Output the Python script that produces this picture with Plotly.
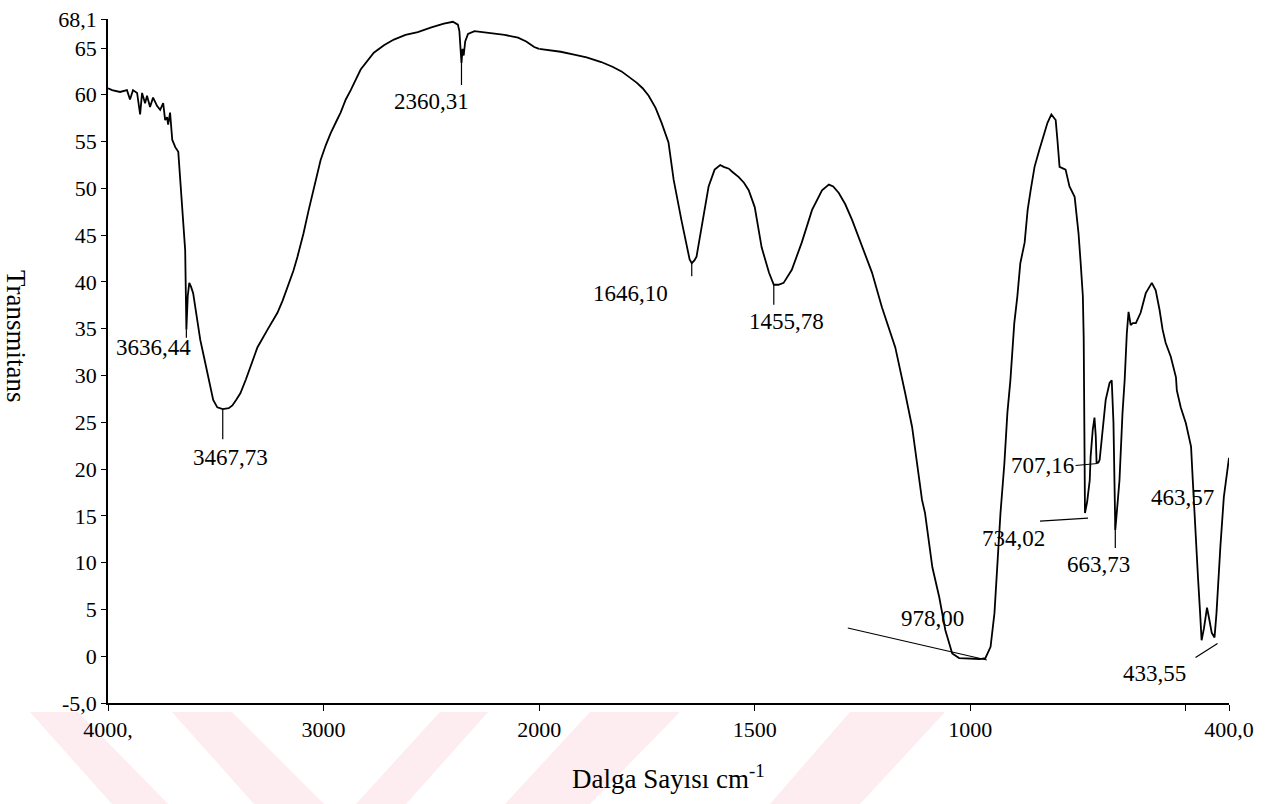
import plotly.graph_objects as go

# ---------------- data ----------------
wavenumber = [
    4000, 3981, 3944, 3912, 3898, 3884, 3865, 3851, 3842, 3828, 3819, 3805, 3791, 3772,
    3758, 3744, 3735, 3726, 3721, 3712, 3702, 3688, 3674, 3665, 3652, 3642, 3636.44,
    3630, 3623, 3615, 3605, 3590, 3572, 3555, 3540, 3525, 3512, 3493, 3467.73, 3440,
    3423, 3405, 3386, 3360, 3340, 3307, 3260, 3214, 3190, 3167, 3140, 3121, 3093, 3070,
    3047, 3014, 2990, 2967, 2940, 2921, 2897, 2874, 2828, 2767, 2720, 2674, 2620, 2563,
    2500, 2442, 2400, 2377, 2370, 2364, 2360.31, 2355, 2350, 2343, 2330, 2300, 2260,
    2223, 2160, 2098, 2060, 2023, 2000, 1979, 1950, 1919, 1890, 1856, 1830, 1809, 1790,
    1774, 1760, 1746, 1730, 1716, 1700, 1688, 1670, 1651, 1646.10, 1640, 1635, 1623,
    1607, 1593, 1580, 1572, 1560, 1553, 1537, 1525, 1514, 1500, 1492, 1484, 1467,
    1455.78, 1445, 1433, 1414, 1391, 1367, 1344, 1328, 1318, 1305, 1290, 1274, 1251,
    1228, 1205, 1174, 1151, 1135, 1112, 1105, 1088, 1072, 1058, 1042, 1026, 995, 978.00,
    965, 953, 944, 937, 930, 921, 914, 907, 902, 898, 891, 884, 874, 867, 860, 851, 840,
    828, 821, 812, 802, 798, 793, 779, 770, 758, 753, 749, 744, 739, 737, 736, 735,
    734.02, 729, 723, 721, 716, 712, 709, 707.16, 703, 700, 693, 686, 677, 672, 668, 665,
    663.73, 660, 654, 647, 642, 637, 633, 628, 623, 616, 605, 593, 579, 570, 561, 554,
    547, 535, 523, 521, 512, 500, 488, 484, 477, 472, 467, 463.57, 458, 451, 446, 440,
    433.55, 429, 420, 412, 400,
]
transmittance = [
    60.7, 60.5, 60.3, 60.5, 59.5, 60.5, 60.2, 57.9, 60.2, 59.1, 59.9, 58.7, 59.7, 58.8,
    58.4, 59.1, 57.3, 57.6, 56.8, 58.1, 55.2, 54.4, 53.9, 50.9, 46.5, 43.4, 34.9,
    38.5, 39.9, 39.5, 38.8, 36.3, 33.8, 32.0, 30.3, 28.6, 27.4, 26.6, 26.4, 26.5,
    26.8, 27.4, 28.1, 29.6, 30.9, 33.0, 34.9, 36.7, 38.0, 39.5, 41.2, 42.7, 45.2, 47.6,
    49.8, 53.0, 54.6, 55.9, 57.2, 58.1, 59.5, 60.5, 62.7, 64.5, 65.3, 65.9, 66.4, 66.7,
    67.2, 67.6, 67.8, 67.5, 66.8, 65.0, 63.4, 64.9, 64.2, 65.7, 66.5, 66.8, 66.7,
    66.6, 66.4, 66.1, 65.7, 65.1, 64.9, 64.8, 64.6, 64.3, 64.0, 63.5, 63.0, 62.5, 61.9,
    61.3, 60.7, 59.9, 58.6, 57.0, 54.9, 50.9, 46.6, 42.4, 42.0, 42.3, 42.7, 45.9,
    50.2, 52.0, 52.5, 52.3, 52.1, 51.8, 51.2, 50.6, 49.8, 48.0, 46.0, 43.7, 41.0,
    39.7, 39.7, 39.9, 41.3, 44.2, 47.7, 49.8, 50.4, 50.2, 49.5, 48.3, 46.6, 43.7,
    41.0, 37.3, 33.0, 28.1, 24.5, 16.7, 15.3, 9.5, 6.3, 2.8, 0.3, -0.2, -0.3, -0.3,
    -0.2, 1.0, 4.6, 9.9, 15.3, 20.6, 26.0, 29.5, 32.7, 35.6, 38.4, 42.0, 44.2, 47.7, 49.8, 52.3, 54.1,
    55.9, 57.0, 57.9, 57.3, 55.2, 52.3, 52.0, 50.2, 49.1, 47.0, 45.2, 42.0, 38.5, 34.0, 27.0, 21.0,
    15.3, 16.5, 18.8, 21.3, 24.2, 25.5, 23.5, 20.7, 20.7, 21.0, 24.5, 27.4, 29.2, 29.5, 25.0, 19.0,
    13.5, 15.5, 18.8, 26.0, 29.5, 34.5, 36.8, 35.4, 35.6, 35.6, 36.7, 38.8, 39.9, 39.1, 37.0, 34.9,
    33.5, 32.0, 29.8, 28.4, 26.6, 24.9, 22.4, 18.8, 13.5, 8.5, 4.6, 1.7, 3.0, 5.2, 4.0, 2.5,
    2.0, 4.6, 11.7, 17.0, 21.2,
]

peak_wn = [3636.44, 3467.73, 2360.31, 1646.10, 1455.78, 978.00, 734.02, 707.16, 663.73, 463.57, 433.55]
peak_T = [34.9, 26.4, 63.4, 42.0, 39.7, -0.3, 15.3, 20.7, 13.5, 1.7, 2.0]
peak_labels = ["3636,44", "3467,73", "2360,31", "1646,10", "1455,78", "978,00",
               "734,02", "707,16", "663,73", "463,57", "433,55"]

x_hi_ticks = [4000, 3000, 2000]
x_hi_text = ["4000,", "3000", "2000"]
x_lo_ticks = [1500, 1000, 400]
x_lo_text = ["1500", "1000", "400,0"]
x_lo_minor = [500]
y_ticks = [68.1, 65, 60, 55, 50, 45, 40, 35, 30, 25, 20, 15, 10, 5, 0, -5]
y_text = ["68,1", "65", "60", "55", "50", "45", "40", "35", "30", "25", "20", "15", "10", "5", "0", "-5,0"]

X_BREAK = 2000
Y_MIN, Y_MAX = -5.0, 68.1

# ---------------- layout constants ----------------
W, H = 1277, 804
ML, MR, MT, MB = 108, 48, 19, 101
PW, PH = W - ML - MR, H - MT - MB
SPLIT = 2000 / 5200.0  # 4000-2000 compressed, 2000-400 at double scale

FONT = "Liberation Serif, Times New Roman, serif"
TICK_SIZE = 22
LABEL_SIZE = 23
TITLE_SIZE = 27

# label placement in screen pixels relative to the peak point (dx, dy down)
label_text_off = [(-33, 18), (8, 48), (-30, 39), (-61, 30), (13, 37), (-47, -41),
                  (-71, 25), (-54, 3), (-17, 35), (-19, -143), (-60, 36)]
label_line_off = [((0, 0), (0, 8)), ((0, 0), (0, 30)), ((0, 0), (0, 22)), ((0, 0), (0, 13)),
                  ((0, 0), (0, 20)), ((7, 1), (-132, -31)), ((3, 5), (-45, 8)), ((1, 1), (-21, 3)),
                  ((0, -7), (0, 18)), None, ((3, 6), (-19, 20))]

hi_x = [w for w in wavenumber if w >= X_BREAK]
hi_y = [t for w, t in zip(wavenumber, transmittance) if w >= X_BREAK]
lo_x = [w for w in wavenumber if w <= X_BREAK]
lo_y = [t for w, t in zip(wavenumber, transmittance) if w <= X_BREAK]

fig = go.Figure()
line_style = dict(color="black", width=1.8)
fig.add_trace(go.Scatter(x=hi_x, y=hi_y, mode="lines", line=line_style,
                         xaxis="x", yaxis="y", showlegend=False, hoverinfo="skip"))
fig.add_trace(go.Scatter(x=lo_x, y=lo_y, mode="lines", line=line_style,
                         xaxis="x2", yaxis="y", showlegend=False, hoverinfo="skip"))

annotations = []
shapes = []
for wn, t, lab, toff, loff in zip(peak_wn, peak_T, peak_labels, label_text_off, label_line_off):
    xr = "x" if wn >= X_BREAK else "x2"
    annotations.append(dict(x=wn, y=t, xref=xr, yref="y", text=lab, showarrow=False,
                            xshift=toff[0], yshift=-toff[1], xanchor="center", yanchor="middle",
                            font=dict(family=FONT, size=LABEL_SIZE, color="black")))
    if loff is not None:
        (a0, b0), (a1, b1) = loff
        shapes.append(dict(type="line", xref=xr, yref="y", xsizemode="pixel", ysizemode="pixel",
                           xanchor=wn, yanchor=t, x0=a0, y0=-b0, x1=a1, y1=-b1,
                           line=dict(color="black", width=1.2)))

# axis titles
annotations.append(dict(x=(668 - ML) / PW, y=(MT + PH - 777) / PH, xref="paper", yref="paper",
                        text="Dalga Sayısı cm<sup>-1</sup>", showarrow=False,
                        xanchor="center", yanchor="middle",
                        font=dict(family=FONT, size=TITLE_SIZE, color="black")))
annotations.append(dict(x=(16 - ML) / PW, y=(MT + PH - 336) / PH, xref="paper", yref="paper",
                        text="Transmitans", showarrow=False, textangle=90,
                        xanchor="center", yanchor="middle",
                        font=dict(family=FONT, size=TITLE_SIZE, color="black")))

# faint pink watermark stripes at the bottom of the page
def px2paper(px, py):
    return (px - ML) / PW, (MT + PH - py) / PH

stripes = [
    [(30, 712), (78, 712), (168, 804), (112, 804)],
    [(172, 712), (232, 712), (324, 804), (254, 804)],
    [(440, 712), (488, 712), (406, 804), (356, 804)],
    [(590, 712), (680, 712), (590, 804), (505, 804)],
    [(850, 712), (945, 712), (860, 804), (770, 804)],
]
for poly in stripes:
    pts = [px2paper(*p) for p in poly]
    path = "M " + " L ".join(f"{x:.5f},{y:.5f}" for x, y in pts) + " Z"
    shapes.append(dict(type="path", xref="paper", yref="paper", path=path,
                       fillcolor="#fdecf0", line=dict(width=0), layer="below"))

axis_common = dict(showgrid=False, zeroline=False, showline=True, linecolor="black",
                   linewidth=1.5, ticks="outside", ticklen=6, tickwidth=1.2, tickcolor="black",
                   tickfont=dict(family=FONT, size=TICK_SIZE, color="black"),
                   automargin=False, tickmode="array")

fig.update_layout(
    width=W, height=H,
    margin=dict(l=ML, r=MR, t=MT, b=MB, autoexpand=False),
    paper_bgcolor="white", plot_bgcolor="rgba(0,0,0,0)",
    xaxis=dict(domain=[0, SPLIT], range=[4000, X_BREAK], anchor="y",
               tickvals=x_hi_ticks, ticktext=x_hi_text, **axis_common),
    xaxis2=dict(domain=[SPLIT, 1], range=[X_BREAK, 400], anchor="y",
                tickvals=x_lo_ticks, ticktext=x_lo_text,
                minor=dict(tickmode="array", tickvals=x_lo_minor, ticks="outside",
                           ticklen=6, tickwidth=1.2, tickcolor="black", showgrid=False),
                **axis_common),
    yaxis=dict(range=[Y_MIN, Y_MAX], anchor="x", tickvals=y_ticks, ticktext=y_text,
               **{**axis_common, "ticklen": 5}),
    annotations=annotations,
    shapes=shapes,
)

fig.write_html("out.html")
